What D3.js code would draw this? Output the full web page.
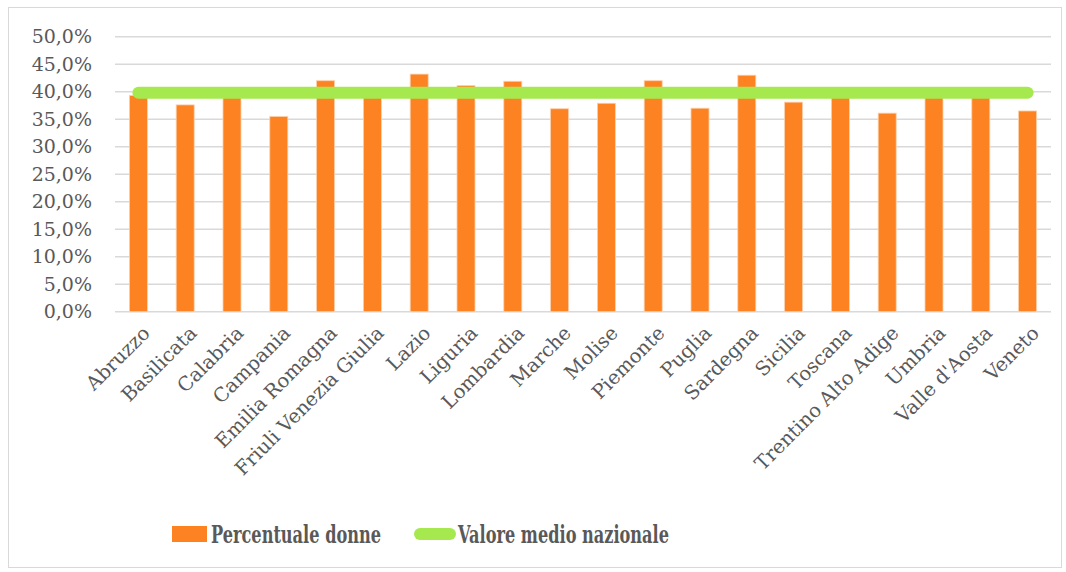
<!DOCTYPE html>
<html>
<head>
<meta charset="utf-8">
<script src="https://d3js.org/d3.v7.min.js"></script>
<style>
  body { margin: 0; background: #fff; }
  text { font-family: "DejaVu Serif", serif; }
</style>
</head>
<body>
<script>
var regions = ["Abruzzo", "Basilicata", "Calabria", "Campania", "Emilia Romagna",
  "Friuli Venezia Giulia", "Lazio", "Liguria", "Lombardia", "Marche", "Molise",
  "Piemonte", "Puglia", "Sardegna", "Sicilia", "Toscana", "Trentino Alto Adige",
  "Umbria", "Valle d'Aosta", "Veneto"];
var percentDonne = [39.3, 37.6, 39.6, 35.5, 42.0, 39.5, 43.2, 41.1, 41.9, 36.9,
  37.9, 42.0, 37.0, 43.0, 38.1, 39.4, 36.1, 39.7, 39.8, 36.5];
var mediaNazionale = [39.8];
var yTicks = [0, 5, 10, 15, 20, 25, 30, 35, 40, 45, 50];
var seriesNames = ["Percentuale donne", "Valore medio nazionale"];

var width = 1066, height = 572;
var orange = "#fd8322", green = "#a6e94f", grid = "#d9d9d9", txt = "#595959";

var svg = d3.select("body").append("svg")
  .attr("width", width)
  .attr("height", height);

svg.append("rect")
  .attr("x", 8.5).attr("y", 7.5)
  .attr("width", 1053).attr("height", 560)
  .attr("fill", "#fff")
  .attr("stroke", "#d9d9d9");

var plotLeft = 115, plotRight = 1051, plotTop = 36.7, plotBottom = 311.7;

var x = d3.scaleBand()
  .domain(regions)
  .range([plotLeft, plotRight])
  .paddingInner(0.615)
  .paddingOuter(0.3075);

var y = d3.scaleLinear()
  .domain([0, 50])
  .range([plotBottom, plotTop]);

// gridlines
svg.append("g")
  .selectAll("line")
  .data(yTicks)
  .join("line")
  .attr("x1", plotLeft).attr("x2", plotRight)
  .attr("y1", function(d) { return y(d); })
  .attr("y2", function(d) { return y(d); })
  .attr("stroke", grid)
  .attr("stroke-width", 1.5);

// y axis labels
var fmt = function(d) { return d.toFixed(1).replace(".", ",") + "%"; };
svg.append("g")
  .selectAll("text")
  .data(yTicks)
  .join("text")
  .attr("x", 92)
  .attr("y", function(d) { return y(d); })
  .attr("dy", "0.35em")
  .attr("text-anchor", "end")
  .attr("fill", txt)
  .style("font-size", "19px")
  .text(fmt);

// bars
svg.append("g")
  .selectAll("rect")
  .data(percentDonne)
  .join("rect")
  .attr("x", function(d, i) { return x(regions[i]); })
  .attr("y", function(d) { return y(d); })
  .attr("width", x.bandwidth())
  .attr("height", function(d) { return plotBottom - y(d); })
  .attr("fill", orange)
  .attr("stroke", "#fcd0ad")
  .attr("stroke-width", 0.8);

// average line
var line = d3.line()
  .x(function(d) { return x(d) + x.bandwidth() / 2; })
  .y(function() { return y(mediaNazionale[0]); });
svg.append("path")
  .datum(regions)
  .attr("d", line)
  .attr("fill", "none")
  .attr("stroke", green)
  .attr("stroke-width", 12)
  .attr("stroke-linecap", "round");

// category labels
svg.append("g")
  .selectAll("text")
  .data(regions)
  .join("text")
  .attr("transform", function(d) {
    return "translate(" + (x(d) + x.bandwidth() / 2 + 3) + "," + (plotBottom + 13) + ") rotate(-45)";
  })
  .attr("text-anchor", "end")
  .attr("dy", "0.7em")
  .attr("fill", txt)
  .style("font-size", "19.5px")
  .text(function(d) { return d; });

// legend
var leg = svg.append("g");
leg.append("rect")
  .attr("x", 172).attr("y", 526)
  .attr("width", 35).attr("height", 16)
  .attr("fill", orange);
leg.append("text")
  .attr("x", 211).attr("y", 543)
  .attr("fill", txt)
  .style("font-size", "24px")
  .style("font-weight", "bold")
  .attr("textLength", 170)
  .attr("lengthAdjust", "spacingAndGlyphs")
  .text(seriesNames[0]);
leg.append("line")
  .attr("x1", 420).attr("x2", 450)
  .attr("y1", 534).attr("y2", 534)
  .attr("stroke", green)
  .attr("stroke-width", 12)
  .attr("stroke-linecap", "round");
leg.append("text")
  .attr("x", 458).attr("y", 543)
  .attr("fill", txt)
  .style("font-size", "24px")
  .style("font-weight", "bold")
  .attr("textLength", 211)
  .attr("lengthAdjust", "spacingAndGlyphs")
  .text(seriesNames[1]);
</script>
</body>
</html>
